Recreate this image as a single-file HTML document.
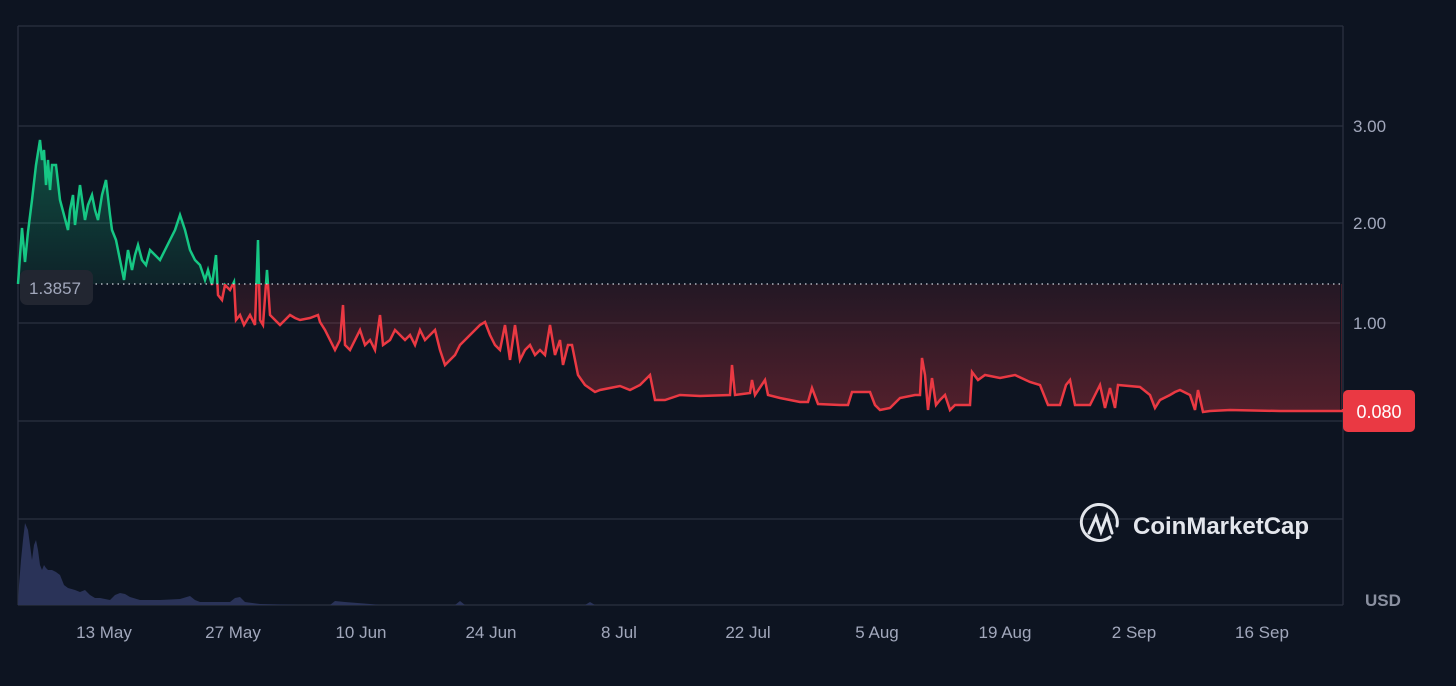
<!DOCTYPE html>
<html><head><meta charset="utf-8"><style>
html,body{margin:0;padding:0;background:#0d1421;}
svg{display:block}
text{font-family:"Liberation Sans",sans-serif}
</style></head><body>
<svg width="1456" height="686" viewBox="0 0 1456 686" xmlns="http://www.w3.org/2000/svg">
<defs>
<linearGradient id="gg" x1="0" y1="130" x2="0" y2="284" gradientUnits="userSpaceOnUse">
<stop offset="0" stop-color="#16c784" stop-opacity="0.35"/><stop offset="1" stop-color="#16c784" stop-opacity="0.08"/></linearGradient>
<linearGradient id="rg" x1="0" y1="284" x2="0" y2="415" gradientUnits="userSpaceOnUse">
<stop offset="0" stop-color="#ea3943" stop-opacity="0.1"/><stop offset="1" stop-color="#ea3943" stop-opacity="0.32"/></linearGradient>
<clipPath id="above"><rect x="0" y="0" width="1456" height="284"/></clipPath>
<clipPath id="below"><rect x="0" y="284" width="1456" height="400"/></clipPath>
<polyline id="pl" points="18,284 22,228 25,262 28,232 32,200 36,165 40,140 42,160 44,150 46,185 48,160 50,190 52,165 56,165 60,200 64,215 68,230 70,210 73,195 75,225 80,185 85,220 88,205 92,195 95,210 98,220 102,195 106,180 110,215 112,230 116,240 120,260 124,280 128,250 132,270 135,255 138,245 142,260 146,265 150,250 155,255 160,260 165,250 170,240 175,230 180,215 185,230 190,250 195,260 200,265 205,280 208,270 212,285 216,255 218,295 222,300 225,285 230,290 234,282 236,320 240,315 244,325 250,315 255,325 258,240 260,320 263,325 267,270 270,315 275,320 280,325 285,320 290,315 295,318 300,320 310,318 318,315 320,322 325,330 330,340 335,350 340,340 343,305 345,345 350,350 360,330 365,345 370,340 375,350 380,315 383,345 390,340 395,330 400,335 405,340 410,335 415,345 420,330 425,340 430,335 435,330 440,350 445,365 450,360 455,355 460,345 465,340 470,335 475,330 480,325 485,322 490,335 495,345 500,350 505,325 510,360 515,325 520,360 525,350 530,345 535,355 540,350 545,355 550,325 555,355 560,340 563,365 568,345 572,345 578,375 585,385 595,392 600,390 610,388 620,386 630,390 640,385 650,375 655,400 665,400 680,395 700,396 730,395 732,365 735,395 750,393 752,380 755,395 765,380 768,395 780,398 800,402 808,402 812,388 818,404 840,405 848,405 852,392 870,392 875,405 880,410 890,408 900,398 915,395 920,395 922,358 925,375 928,410 932,378 936,405 940,400 945,395 950,410 955,405 970,405 972,372 978,380 985,375 1000,378 1015,375 1030,382 1040,385 1048,405 1060,405 1066,385 1070,380 1075,405 1090,405 1100,385 1105,408 1110,388 1115,408 1118,385 1140,387 1150,395 1155,408 1160,400 1170,395 1175,392 1180,390 1190,395 1195,410 1198,390 1203,412 1210,411 1230,410 1280,411 1343,411 1343,284"/>
</defs>
<rect width="1456" height="686" fill="#0d1421"/>
<g stroke="#2b3140" stroke-width="1.3" fill="none">
<line x1="18" y1="26" x2="1343" y2="26"/>
<line x1="18" y1="126" x2="1343" y2="126"/>
<line x1="18" y1="223" x2="1343" y2="223"/>
<line x1="18" y1="323" x2="1343" y2="323"/>
<line x1="18" y1="421" x2="1343" y2="421"/>
<line x1="18" y1="519" x2="1343" y2="519"/>
<line x1="18" y1="605" x2="1343" y2="605"/>
<line x1="18" y1="26" x2="18" y2="605"/>
<line x1="1343" y1="26" x2="1343" y2="605"/>
</g>
<polygon fill="#2a3358" points="18,605 19,585 21,560 23,540 25,523 28,530 30,545 32,560 34,545 36,540 38,550 40,565 42,570 44,565 46,568 48,570 52,570 56,572 60,575 64,585 68,588 75,590 80,592 85,590 90,595 95,598 100,598 110,600 115,595 120,593 125,594 130,597 140,600 150,600 160,600 180,599 190,596 195,600 200,602 210,602 230,602 235,598 240,597 245,602 260,604 300,605 330,605 335,601 345,602 370,604 380,605 455,605 460,601 465,605 585,605 590,602 595,605 1343,605"/>
<g clip-path="url(#above)"><use href="#pl" fill="url(#gg)" stroke="none"/></g>
<g clip-path="url(#below)"><use href="#pl" fill="url(#rg)" stroke="none"/></g>
<rect x="1340" y="280" width="8" height="140" fill="#0d1421"/>
<line x1="1343" y1="280" x2="1343" y2="420" stroke="#2b3140" stroke-width="1.3"/>
<g clip-path="url(#above)"><use href="#pl" fill="none" stroke="#16c784" stroke-width="2.5"/></g>
<g clip-path="url(#below)"><use href="#pl" fill="none" stroke="#ea3943" stroke-width="2.5"/></g>
<rect x="1342" y="282" width="4" height="127" fill="#0d1421"/>
<line x1="1343" y1="282" x2="1343" y2="409" stroke="#2b3140" stroke-width="1.3"/>
<line x1="90" y1="284" x2="1343" y2="284" stroke="#cfd3dc" stroke-width="1.3" stroke-dasharray="1.5 4"/>
<rect x="20" y="270" width="73" height="35" rx="7" fill="#222631"/>
<text x="29" y="294" font-size="17" fill="#a1a7bb">1.3857</text>
<rect x="1343" y="390" width="72" height="42" rx="5" fill="#ea3943"/>
<text x="1379" y="418" font-size="18" fill="#fff" text-anchor="middle">0.080</text>
<g font-size="17" fill="#a1a7bb">
<text x="1353" y="132">3.00</text><text x="1353" y="229">2.00</text><text x="1353" y="329">1.00</text>
<text x="1365" y="606" font-weight="bold" fill="#8a90a0">USD</text>
</g>
<g font-size="17" fill="#a1a7bb" text-anchor="middle">
<text x="104" y="638">13 May</text><text x="233" y="638">27 May</text><text x="361" y="638">10 Jun</text><text x="491" y="638">24 Jun</text><text x="619" y="638">8 Jul</text><text x="748" y="638">22 Jul</text><text x="877" y="638">5 Aug</text><text x="1005" y="638">19 Aug</text><text x="1134" y="638">2 Sep</text><text x="1262" y="638">16 Sep</text>
</g>
<g stroke="#e3e6ec" stroke-width="3" fill="none" stroke-linecap="round">
<path d="M1110,537 A18,18 0 1,1 1117,526"/>
<path d="M1089,533 L1096,517 L1101,532 L1107,516 L1112,533"/>
</g>
<text x="1133" y="534" font-size="24" font-weight="bold" fill="#e3e6ec">CoinMarketCap</text>
</svg>
</body></html>
